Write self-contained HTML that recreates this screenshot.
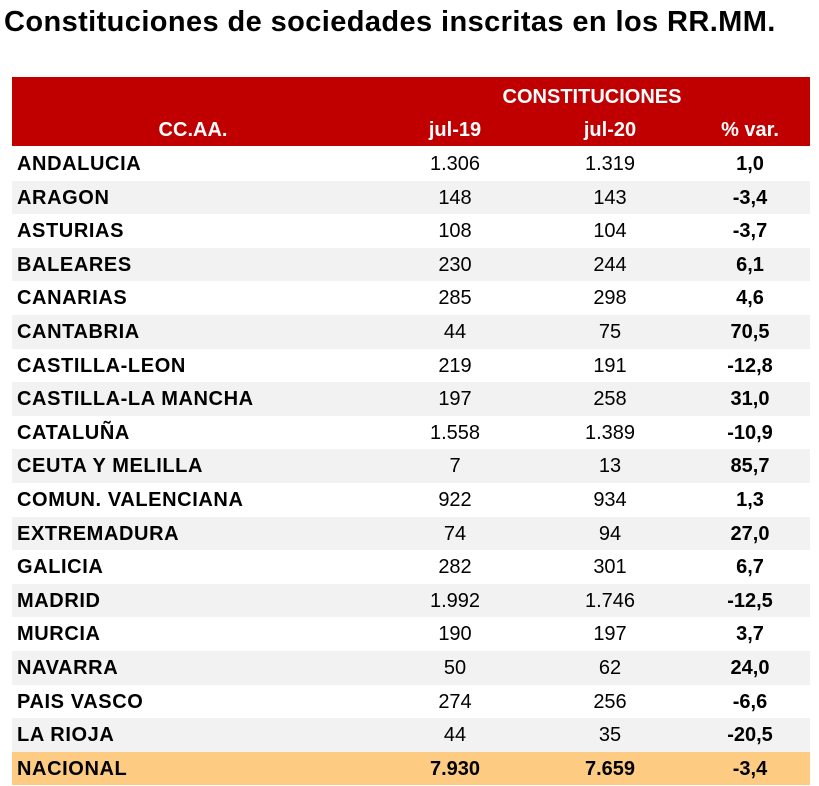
<!DOCTYPE html>
<html><head><meta charset="utf-8"><style>
body{margin:0;width:819px;height:786px;background:#fff;font-family:"Liberation Sans",Arial,sans-serif;position:relative;overflow:hidden}
.t{position:absolute;left:4px;top:6px;font-size:29px;font-weight:bold;color:#000;letter-spacing:0.4px}
.h{position:absolute;left:12px;top:77px;width:798px;height:69px;background:#c00000}
.h div{position:absolute;color:#fff;font-weight:bold;font-size:20px;transform:translateX(-50%);white-space:nowrap}
.r{position:absolute;left:12px;width:798px;height:33.6px;font-size:20px;line-height:34px;color:#000}
.r span{position:absolute;transform:translateX(-50%);white-space:nowrap}
.r .n{left:5px;transform:none;font-weight:bold;letter-spacing:0.6px}
.g{background:#f2f2f2}
.o{background:#fdcb82}
</style></head><body>
<div class="t">Constituciones de sociedades inscritas en los RR.MM.</div>
<div class="h">
<div style="left:580px;top:9px">CONSTITUCIONES</div>
<div style="left:181px;top:42px">CC.AA.</div>
<div style="left:443px;top:42px">jul-19</div>
<div style="left:598px;top:42px">jul-20</div>
<div style="left:738px;top:42px">% var.</div>
</div>
<div id="rows"></div>
<script>
var d=[["ANDALUCIA","1.306","1.319","1,0"],["ARAGON","148","143","-3,4"],["ASTURIAS","108","104","-3,7"],["BALEARES","230","244","6,1"],["CANARIAS","285","298","4,6"],["CANTABRIA","44","75","70,5"],["CASTILLA-LEON","219","191","-12,8"],["CASTILLA-LA MANCHA","197","258","31,0"],["CATALUÑA","1.558","1.389","-10,9"],["CEUTA Y MELILLA","7","13","85,7"],["COMUN. VALENCIANA","922","934","1,3"],["EXTREMADURA","74","94","27,0"],["GALICIA","282","301","6,7"],["MADRID","1.992","1.746","-12,5"],["MURCIA","190","197","3,7"],["NAVARRA","50","62","24,0"],["PAIS VASCO","274","256","-6,6"],["LA RIOJA","44","35","-20,5"],["NACIONAL","7.930","7.659","-3,4"]];
var h="";
d.forEach(function(r,i){
var c=i==18?"o":(i%2?"g":"");
var b=i==18?"font-weight:bold;":"";
h+='<div class="r '+c+'" style="top:'+(147+i*33.6)+'px"><span class="n">'+r[0]+'</span><span style="left:443px;'+b+'">'+r[1]+'</span><span style="left:598px;'+b+'">'+r[2]+'</span><span style="left:738px;font-weight:bold">'+r[3]+'</span></div>';
});
document.getElementById("rows").innerHTML=h;
</script>
</body></html>
